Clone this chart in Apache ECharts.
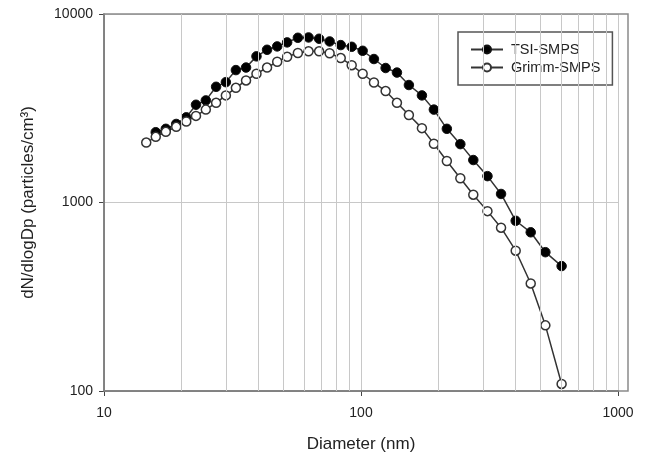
<!DOCTYPE html>
<html>
<head>
<meta charset="utf-8">
<script src="https://cdn.jsdelivr.net/npm/echarts@6/dist/echarts.min.js"></script>
<style>
  html, body { margin: 0; padding: 0; background: #fff; }
  #main { width: 648px; height: 455px; }
</style>
</head>
<body>
<div id="main"></div>
<script>
// particle diameter (nm)
const diameter = [14.6, 15.9, 17.4, 19.1, 20.9, 22.8, 24.9, 27.3, 29.8, 32.6,
  35.7, 39.2, 43.1, 47.2, 51.6, 56.8, 62.5, 68.7, 75.5, 83.4,
  92.0, 101.5, 112.3, 124.7, 138.0, 153.6, 172.6, 192.1, 215.8, 243.5,
  273.5, 310.5, 350.7, 399.9, 457.5, 521.7, 603.4];
// dN/dlogDp
const tsiSmps = [null, 2360, 2460, 2610, 2830, 3300, 3480, 4110, 4350, 5040,
  5200, 5960, 6460, 6730, 7070, 7480, 7510, 7390, 7150, 6840,
  6700, 6380, 5770, 5170, 4890, 4200, 3700, 3110, 2460, 2040,
  1680, 1380, 1110, 800, 695, 545, 460];
const grimmSmps = [2080, 2230, 2370, 2520, 2690, 2880, 3110, 3380, 3700, 4060,
  4440, 4820, 5200, 5580, 5930, 6210, 6340, 6340, 6190, 5840,
  5350, 4820, 4330, 3900, 3380, 2910, 2480, 2050, 1660, 1345,
  1100, 900, 735, 555, 372, 223, 109];
// minor vertical grid lines
const minorX = [20, 30, 40, 50, 60, 70, 80, 90, 200, 300, 400, 500, 600, 700, 800, 900];

const FONT = '"Liberation Sans", Arial, sans-serif';
const GRID = {left: 104, top: 14, right: 30, bottom: 64};

const pairs = arr => diameter.map((d, i) => [d, arr[i]]);

const option = {
  animation: false,
  backgroundColor: '#fff',
  textStyle: {fontFamily: FONT, color: '#222'},
  grid: Object.assign({outerBoundsMode: 'none', containLabel: false}, GRID),
  graphic: [{
    type: 'rect',
    silent: true,
    z: 1,
    shape: {x: GRID.left, y: GRID.top, width: 648 - GRID.left - 20, height: 455 - GRID.top - GRID.bottom},
    style: {fill: null, stroke: '#8a8a8a', lineWidth: 1.5}
  }],
  legend: {
    orient: 'vertical',
    left: 458,
    top: 32,
    data: ['TSI-SMPS', 'Grimm-SMPS'],
    backgroundColor: '#fff',
    borderColor: '#555',
    borderWidth: 1.5,
    borderRadius: 0,
    padding: [10, 12, 10, 12],
    itemGap: 3,
    itemWidth: 32,
    itemHeight: 10,
    textStyle: {fontFamily: FONT, fontSize: 14.5, color: '#222', padding: [0, 0, 0, 3]}
  },
  xAxis: {
    type: 'log',
    logBase: 10,
    min: 10,
    max: 1000,
    name: 'Diameter (nm)',
    nameLocation: 'middle',
    nameGap: 45,
    nameTextStyle: {fontFamily: FONT, fontSize: 17, color: '#222'},
    axisLine: {lineStyle: {color: '#444', width: 1.5}},
    axisTick: {inside: false, length: 5, lineStyle: {color: '#444'}},
    axisLabel: {fontFamily: FONT, fontSize: 14, color: '#222', margin: 15,
      formatter: v => String(Math.round(v))},
    splitLine: {show: true, lineStyle: {color: '#c8c8c8', width: 1}}
  },
  yAxis: {
    type: 'log',
    logBase: 10,
    min: 100,
    max: 10000,
    name: 'dN/dlogDp (particles/cm³)',
    nameLocation: 'middle',
    nameGap: 67,
    nameTextStyle: {fontFamily: FONT, fontSize: 17, color: '#222'},
    axisLine: {lineStyle: {color: '#444', width: 1.5}},
    axisTick: {inside: false, length: 5, lineStyle: {color: '#444'}},
    axisLabel: {fontFamily: FONT, fontSize: 14, color: '#222', margin: 11,
      formatter: v => String(Math.round(v))},
    splitLine: {show: true, lineStyle: {color: '#c8c8c8', width: 1}}
  },
  series: [
    {
      type: 'line',
      data: [],
      z: 1,
      silent: true,
      markLine: {
        silent: true,
        symbol: ['none', 'none'],
        label: {show: false},
        lineStyle: {color: '#c8c8c8', width: 1, type: 'solid'},
        data: minorX.map(v => ({xAxis: v}))
      }
    },
    {
      name: 'TSI-SMPS',
      type: 'line',
      data: pairs(tsiSmps),
      symbol: 'circle',
      symbolSize: 9.5,
      lineStyle: {color: '#333', width: 1.5},
      itemStyle: {color: '#000', borderColor: '#111', borderWidth: 1}
    },
    {
      name: 'Grimm-SMPS',
      type: 'line',
      data: pairs(grimmSmps),
      symbol: 'circle',
      symbolSize: 9,
      lineStyle: {color: '#333', width: 1.5},
      itemStyle: {color: '#fff', borderColor: '#333', borderWidth: 1.5}
    }
  ]
};

const chart = echarts.init(document.getElementById('main'));
chart.setOption(option);
</script>
</body>
</html>
